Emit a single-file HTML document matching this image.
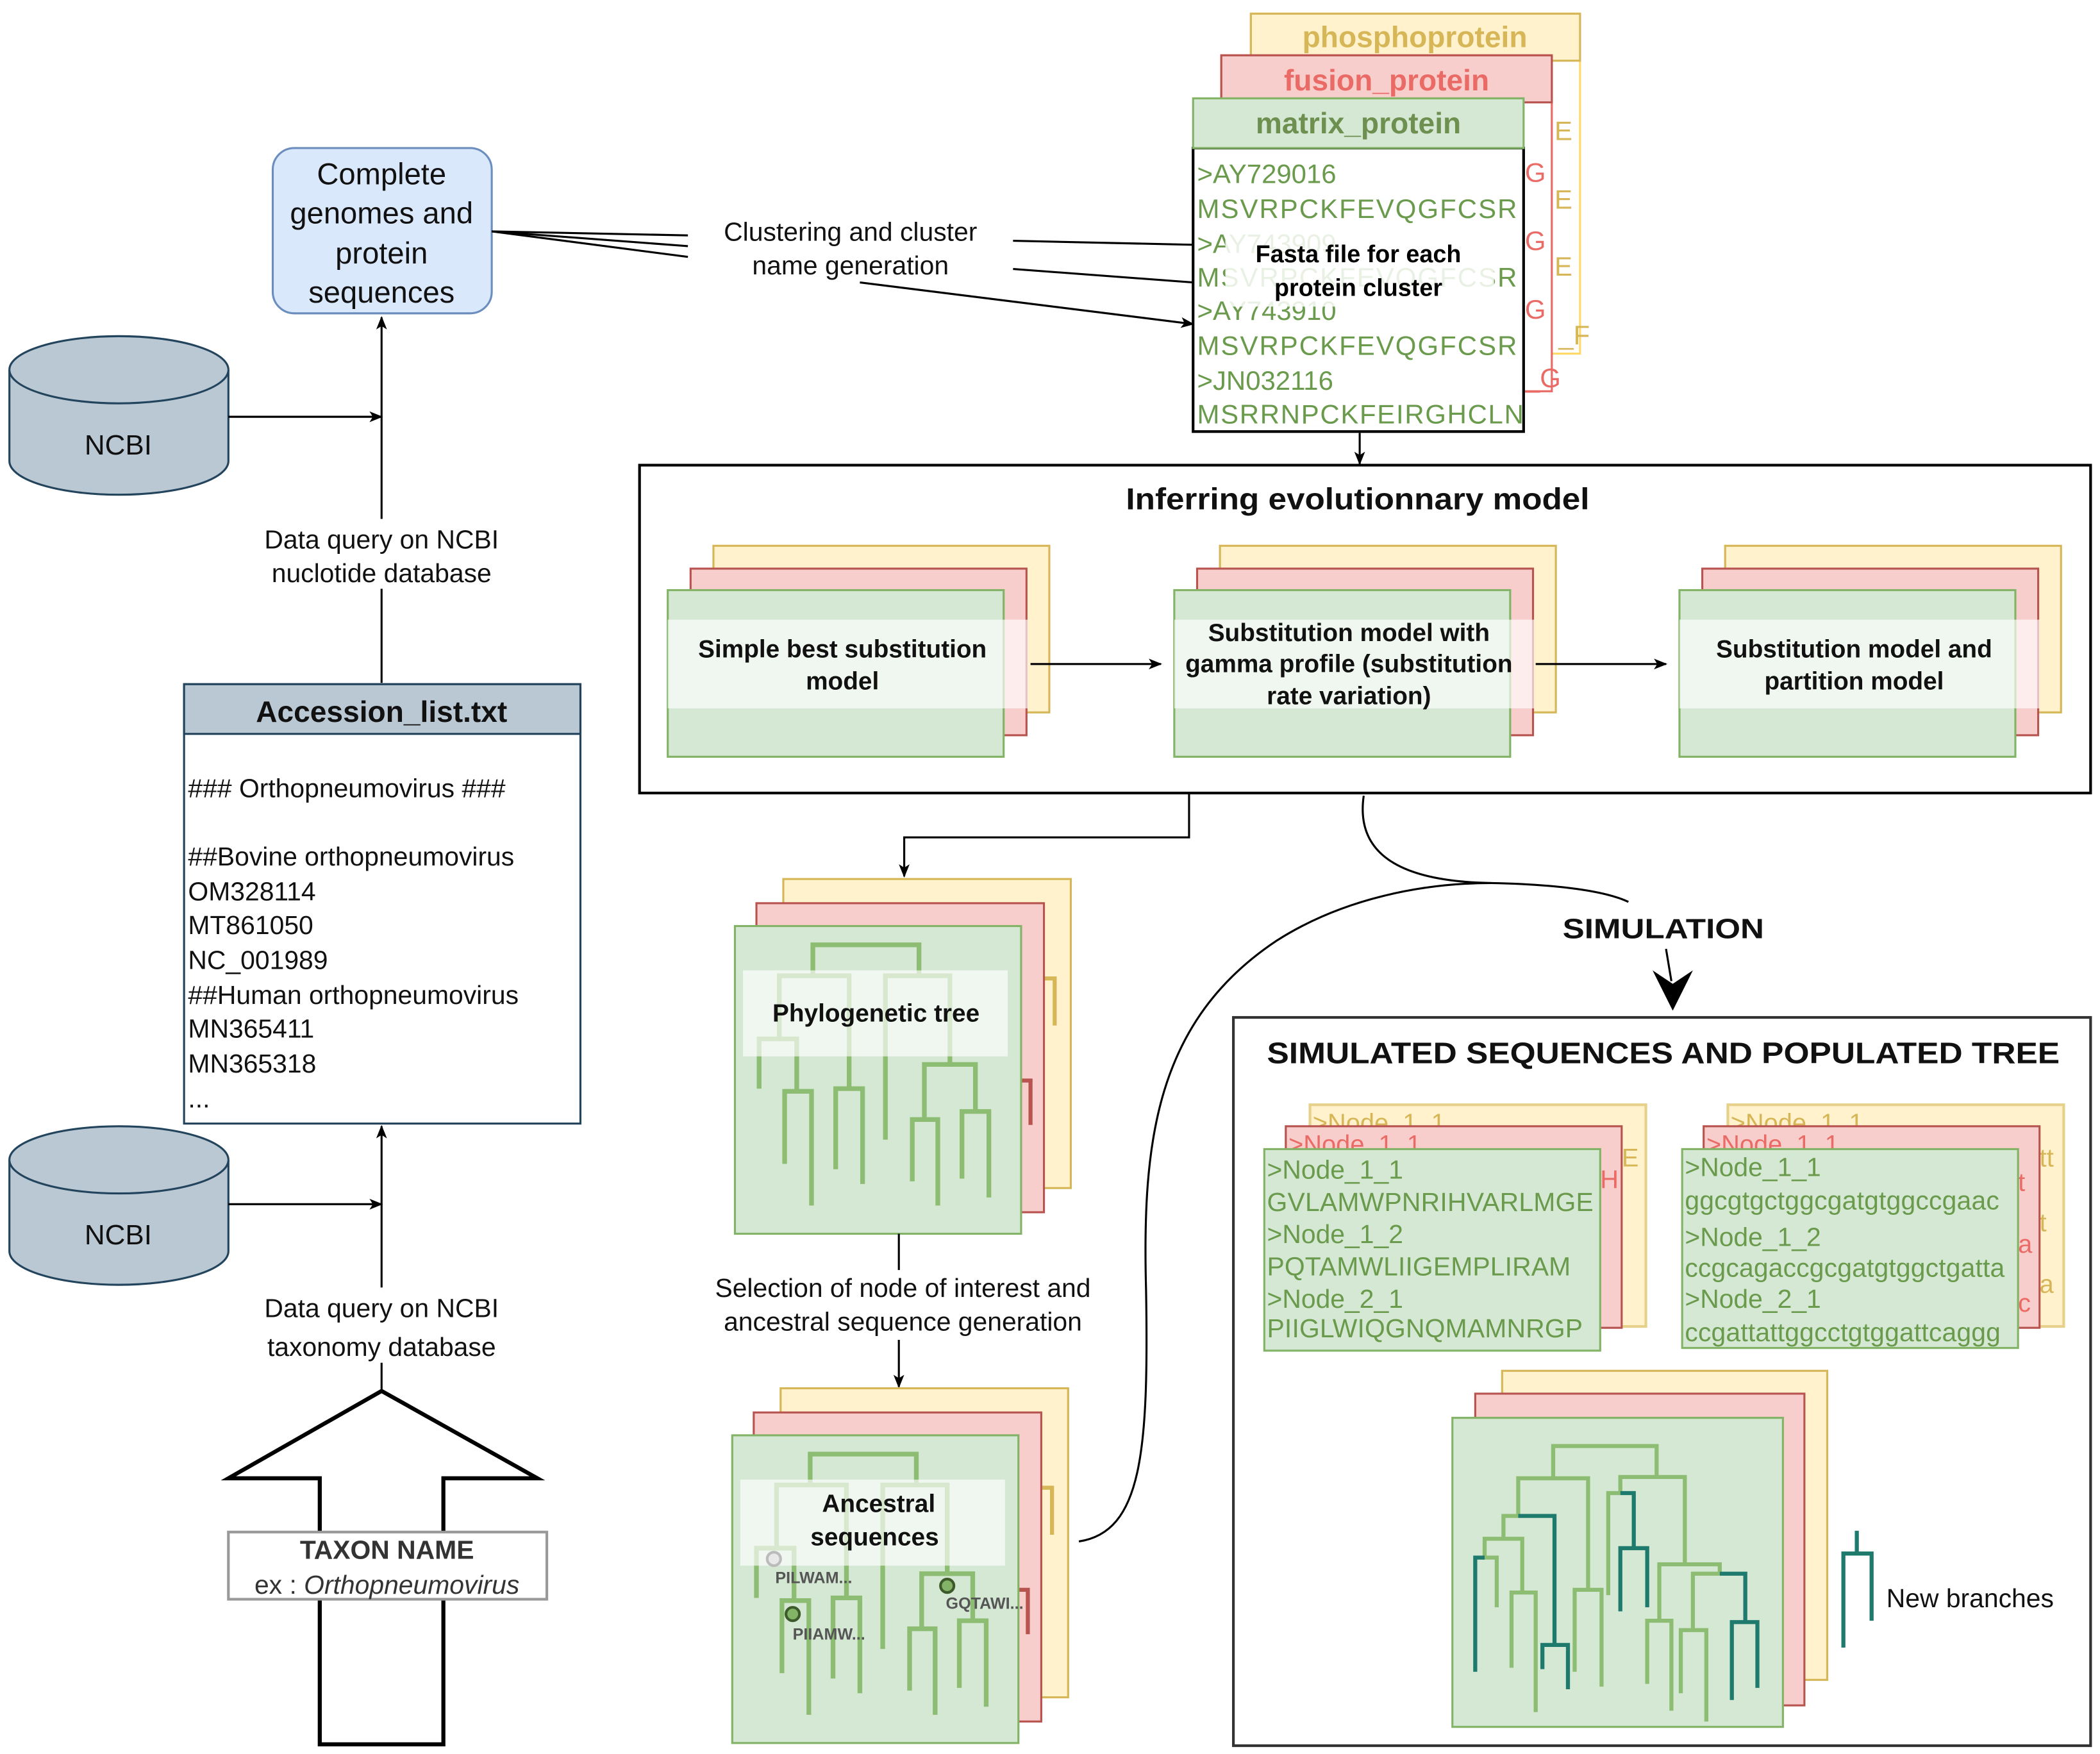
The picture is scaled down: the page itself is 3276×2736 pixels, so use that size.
<!DOCTYPE html>
<html><head><meta charset="utf-8"><style>html,body{margin:0;padding:0;background:#fff}svg{display:block}</style></head>
<body>
<svg xmlns="http://www.w3.org/2000/svg" width="3276" height="2736" viewBox="0 0 1563 1305" font-family="Liberation Sans, Arial, sans-serif">
<defs>
<marker id="a" markerWidth="10" markerHeight="10" refX="9" refY="5" orient="auto" markerUnits="userSpaceOnUse"><path d="M0,1 L10,5 L0,9 L2.5,5 Z" fill="#000"/></marker>
</defs>
<rect width="1563" height="1305" fill="#fff"/>

<rect x="203" y="110" width="163" height="123" rx="16" fill="#dae8fc" stroke="#6c8ebf" stroke-width="1.5"/>
<g font-size="22.5" text-anchor="middle" fill="#111">
<text x="284" y="137">Complete</text><text x="284" y="166">genomes and</text><text x="284" y="196">protein</text><text x="284" y="225">sequences</text>
</g>

<g fill="#bac8d3" stroke="#23445d" stroke-width="1.5">
<path d="M7,275 A81.5,25 0 0 1 170,275 V343 A81.5,25 0 0 1 7,343 Z"/>
<path d="M7,275 A81.5,25 0 0 0 170,275"/>
<path d="M7,863 A81.5,25 0 0 1 170,863 V931 A81.5,25 0 0 1 7,931 Z"/>
<path d="M7,863 A81.5,25 0 0 0 170,863"/>
</g>
<text x="88" y="338" font-size="21" text-anchor="middle" fill="#111">NCBI</text>
<text x="88" y="926" font-size="21" text-anchor="middle" fill="#111">NCBI</text>

<g stroke="#000" stroke-width="1.5" fill="none">
<line x1="170" y1="310" x2="284" y2="310" marker-end="url(#a)"/>
<line x1="284" y1="508" x2="284" y2="236" marker-end="url(#a)"/>
<line x1="170" y1="896" x2="284" y2="896" marker-end="url(#a)"/>
<line x1="284" y1="1035" x2="284" y2="838" marker-end="url(#a)"/>
</g>
<rect x="180" y="386" width="210" height="52" fill="#fff"/>
<rect x="180" y="958" width="210" height="56" fill="#fff"/>
<g font-size="19.5" text-anchor="middle" fill="#111">
<text x="284" y="408">Data query on NCBI</text><text x="284" y="433">nuclotide database</text>
<text x="284" y="980">Data query on NCBI</text><text x="284" y="1009">taxonomy database</text>
</g>

<rect x="137" y="509" width="295" height="327" fill="#fff" stroke="#23445d" stroke-width="1.5"/>
<rect x="137" y="509" width="295" height="37" fill="#bac8d3" stroke="#23445d" stroke-width="1.5"/>
<text x="284" y="537" font-size="22" font-weight="bold" text-anchor="middle" fill="#111">Accession_list.txt</text>
<g font-size="19.5" fill="#111">
<text x="140" y="593">### Orthopneumovirus ###</text>
<text x="140" y="644">##Bovine orthopneumovirus</text>
<text x="140" y="670">OM328114</text>
<text x="140" y="695">MT861050</text>
<text x="140" y="721">NC_001989</text>
<text x="140" y="747">##Human orthopneumovirus</text>
<text x="140" y="772">MN365411</text>
<text x="140" y="798">MN365318</text>
<text x="140" y="824">...</text>
</g>

<path d="M284,1035 L170,1100 L238,1100 L238,1298 L330,1298 L330,1100 L400,1100 Z" fill="#fff" stroke="#000" stroke-width="3"/>
<rect x="170" y="1140" width="237" height="50" fill="#fff" stroke="#999" stroke-width="2"/>
<text x="288" y="1160" font-size="19.5" font-weight="bold" text-anchor="middle" fill="#333">TAXON NAME</text>
<text x="288" y="1186" font-size="19.5" text-anchor="middle" fill="#333">ex : <tspan font-style="italic">Orthopneumovirus</tspan></text>

<g stroke="#000" stroke-width="1.5" fill="none">
<line x1="366" y1="172" x2="512" y2="175"/>
<line x1="366" y1="172" x2="512" y2="183"/>
<line x1="366" y1="172" x2="512" y2="191"/>
<line x1="754" y1="179" x2="888" y2="182"/>
<line x1="754" y1="200" x2="888" y2="210"/>
<line x1="640" y1="210" x2="888" y2="241" marker-end="url(#a)"/>
</g>
<text x="633" y="179" font-size="19.5" text-anchor="middle" fill="#111">Clustering and cluster</text>
<text x="633" y="204" font-size="19.5" text-anchor="middle" fill="#111">name generation</text>

<rect x="931" y="10" width="245" height="253" fill="#fff" stroke="#ffd966" stroke-width="1.5"/>
<rect x="931" y="10" width="245" height="35" fill="#fff2cc" stroke="#d6b656" stroke-width="1.5"/>
<text x="1053" y="35" font-size="22" font-weight="bold" text-anchor="middle" fill="#d6b656">phosphoprotein</text>
<rect x="909" y="41" width="246" height="250" fill="#fff" stroke="#ea6b66" stroke-width="1.5"/>
<rect x="909" y="41" width="246" height="35" fill="#f8cecc" stroke="#b85450" stroke-width="1.5"/>
<text x="1032" y="67" font-size="22" font-weight="bold" text-anchor="middle" fill="#ea6b66">fusion_protein</text>
<g font-size="20" fill="#d6b656"><text x="1157" y="104">E</text><text x="1157" y="155">E</text><text x="1157" y="205">E</text><text x="1160" y="256">_F</text></g>
<g font-size="20" fill="#ea6b66"><text x="1135" y="135">G</text><text x="1135" y="186">G</text><text x="1135" y="237">G</text><text x="1135" y="288">_G</text></g>
<rect x="888" y="110" width="246" height="211" fill="#fff" stroke="#000" stroke-width="2"/>
<rect x="888" y="73" width="246" height="37" fill="#d5e8d4" stroke="#82b366" stroke-width="1.5"/>
<text x="1011" y="99" font-size="22" font-weight="bold" text-anchor="middle" fill="#6d8f4f">matrix_protein</text>
<g font-size="20" fill="#6a9a4c">
<text x="891" y="136">&gt;AY729016</text>
<text x="891" y="162" textLength="238">MSVRPCKFEVQGFCSR</text>
<text x="891" y="188">&gt;AY743909</text>
<text x="891" y="213" textLength="238">MSVRPCKFEVQGFCSR</text>
<text x="891" y="238">&gt;AY743910</text>
<text x="891" y="264" textLength="238">MSVRPCKFEVQGFCSR</text>
<text x="891" y="290">&gt;JN032116</text>
<text x="891" y="315" textLength="243">MSRRNPCKFEIRGHCLN</text>
</g>
<rect x="912" y="172" width="200" height="56" fill="#fff" opacity="0.85"/>
<text x="1011" y="195" font-size="18" font-weight="bold" text-anchor="middle" fill="#000">Fasta file for each</text>
<text x="1011" y="220" font-size="18" font-weight="bold" text-anchor="middle" fill="#000">protein cluster</text>
<line x1="1012" y1="322" x2="1012" y2="345" stroke="#000" stroke-width="1.5" marker-end="url(#a)"/>

<rect x="476" y="346" width="1080" height="244" fill="#fff" stroke="#000" stroke-width="2"/>
<text x="838" y="379" font-size="22.5" font-weight="bold" fill="#111" textLength="345" lengthAdjust="spacingAndGlyphs">Inferring evolutionnary model</text>
<g id="st">
<rect x="531" y="406" width="250" height="124" fill="#fff2cc" stroke="#d6b656" stroke-width="1.5"/>
<rect x="514" y="423" width="250" height="124" fill="#f8cecc" stroke="#b85450" stroke-width="1.5"/>
<rect x="497" y="439" width="250" height="124" fill="#d5e8d4" stroke="#82b366" stroke-width="1.5"/>
<rect x="497" y="461" width="268" height="66" fill="#fff" opacity="0.65"/>
</g>
<use href="#st" x="377"/>
<use href="#st" x="753"/>
<g font-size="18.5" font-weight="bold" text-anchor="middle" fill="#111">
<text x="627" y="489">Simple best substitution</text><text x="627" y="513">model</text>
<text x="1004" y="477">Substitution model with</text><text x="1004" y="500">gamma profile (substitution</text><text x="1004" y="524">rate variation)</text>
<text x="1380" y="489">Substitution model and</text><text x="1380" y="513">partition model</text>
</g>
<g stroke="#000" stroke-width="1.5">
<line x1="767" y1="494" x2="864" y2="494" marker-end="url(#a)"/>
<line x1="1143" y1="494" x2="1240" y2="494" marker-end="url(#a)"/>
</g>
<polyline points="885,590 885,623 673,623 673,652" fill="none" stroke="#000" stroke-width="1.5" marker-end="url(#a)"/>

<g id="pt">
<rect x="583" y="654" width="214" height="230" fill="#fff2cc" stroke="#d6b656" stroke-width="1.5"/>
<path d="M775,728 H785 V763" fill="none" stroke="#d6b656" stroke-width="3"/>
<rect x="563" y="672" width="214" height="230" fill="#f8cecc" stroke="#b85450" stroke-width="1.5"/>
<path d="M759,804 H767 V837" fill="none" stroke="#b85450" stroke-width="3"/>
<rect x="547" y="689" width="213" height="229" fill="#d5e8d4" stroke="#82b366" stroke-width="1.5"/>
<path d="M605,726 V703 H684 V726 M580,773 V726 H632 V810 M565,810 V773 H593 V812 M584,866 V812 H604 V897 M622,870 V810 H642 V881 M659,848 V726 H707 V792 M688,833 V792 H726 V827 M679,879 V833 H698 V897 M716,877 V827 H736 V891" fill="none" stroke="#8dbd72" stroke-width="3.5"/>
<rect x="553" y="722" width="197" height="64" fill="#fff" opacity="0.65"/>
</g>
<text x="652" y="760" font-size="18.5" font-weight="bold" text-anchor="middle" fill="#111">Phylogenetic tree</text>

<line x1="669" y1="918" x2="669" y2="945" stroke="#000" stroke-width="1.5"/>
<line x1="669" y1="997" x2="669" y2="1032" stroke="#000" stroke-width="1.5" marker-end="url(#a)"/>
<text x="672" y="965" font-size="19.5" text-anchor="middle" fill="#111">Selection of node of interest and</text>
<text x="672" y="990" font-size="19.5" text-anchor="middle" fill="#111">ancestral sequence generation</text>

<use href="#pt" x="-2" y="379"/>
<g fill="#111" font-size="18.5" font-weight="bold" text-anchor="middle">
<text x="654" y="1125">Ancestral</text><text x="651" y="1150">sequences</text>
</g>
<circle cx="576" cy="1160" r="5" fill="#e8e8e8" stroke="#bbb" stroke-width="2"/>
<circle cx="590" cy="1201" r="5" fill="#82b366" stroke="#3d5a2a" stroke-width="2"/>
<circle cx="705" cy="1180" r="5" fill="#82b366" stroke="#3d5a2a" stroke-width="2"/>
<g font-size="12" font-weight="bold" fill="#555">
<text x="577" y="1178">PILWAM...</text><text x="590" y="1220">PIIAMW...</text><text x="704" y="1197">GQTAWI...</text>
</g>

<g fill="none" stroke="#000" stroke-width="1.5">
<path d="M1015,592 C1008,640 1050,656 1110,657 C1160,658 1195,663 1212,671"/>
<path d="M803,1147 C850,1140 855,1080 853,960 C850,850 860,760 950,700 C1000,668 1060,657 1110,657"/>
<path d="M1240,706 L1244,730"/>
</g>
<path d="M1230,722 L1245,752 L1260,722 L1245,732 Z" fill="#000"/>
<text x="1163" y="698" font-size="21" font-weight="bold" fill="#111" textLength="150" lengthAdjust="spacingAndGlyphs">SIMULATION</text>

<rect x="918" y="757" width="638" height="542" fill="#fff" stroke="#333" stroke-width="2"/>
<text x="943" y="791" font-size="22" font-weight="bold" fill="#111" textLength="590" lengthAdjust="spacingAndGlyphs">SIMULATED SEQUENCES AND POPULATED TREE</text>

<rect x="975" y="822" width="250" height="165" fill="#fff2cc" stroke="#e6d08a" stroke-width="2"/>
<text x="977" y="842" font-size="19" fill="#d6b656">&gt;Node_1_1</text>
<text x="1207" y="868" font-size="19" fill="#d6b656">E</text>
<rect x="957" y="838" width="250" height="150" fill="#f8cecc" stroke="#b85450" stroke-width="1.5"/>
<text x="959" y="858" font-size="19" fill="#ea6b66">&gt;Node_1_1</text>
<text x="1191" y="884" font-size="19" fill="#ea6b66">H</text>
<rect x="941" y="855" width="250" height="150" fill="#d5e8d4" stroke="#82b366" stroke-width="1.5"/>
<g font-size="19.5" fill="#6a9a4c">
<text x="943" y="877">&gt;Node_1_1</text>
<text x="943" y="901" textLength="243">GVLAMWPNRIHVARLMGE</text>
<text x="943" y="925">&gt;Node_1_2</text>
<text x="943" y="949" textLength="226">PQTAMWLIIGEMPLIRAM</text>
<text x="943" y="973">&gt;Node_2_1</text>
<text x="943" y="995" textLength="235">PIIGLWIQGNQMAMNRGP</text>
</g>

<rect x="1286" y="822" width="250" height="165" fill="#fff2cc" stroke="#e6d08a" stroke-width="2"/>
<text x="1288" y="842" font-size="19" fill="#d6b656">&gt;Node_1_1</text>
<g font-size="19" fill="#d6b656"><text x="1518" y="868">tt</text><text x="1518" y="916">t</text><text x="1518" y="962">a</text></g>
<rect x="1268" y="838" width="250" height="150" fill="#f8cecc" stroke="#b85450" stroke-width="1.5"/>
<text x="1270" y="858" font-size="19" fill="#ea6b66">&gt;Node_1_1</text>
<g font-size="19" fill="#ea6b66"><text x="1502" y="886">t</text><text x="1502" y="932">a</text><text x="1502" y="976">c</text></g>
<rect x="1252" y="855" width="250" height="148" fill="#d5e8d4" stroke="#82b366" stroke-width="1.5"/>
<g font-size="19.5" fill="#6a9a4c">
<text x="1254" y="875">&gt;Node_1_1</text>
<text x="1254" y="900" textLength="234">ggcgtgctggcgatgtggccgaac</text>
<text x="1254" y="927">&gt;Node_1_2</text>
<text x="1254" y="950" textLength="238">ccgcagaccgcgatgtggctgatta</text>
<text x="1254" y="973">&gt;Node_2_1</text>
<text x="1254" y="998" textLength="235">ccgattattggcctgtggattcaggg</text>
</g>

<rect x="1118" y="1020" width="242" height="230" fill="#fff2cc" stroke="#d6b656" stroke-width="1.5"/>
<rect x="1098" y="1037" width="245" height="232" fill="#f8cecc" stroke="#b85450" stroke-width="1.5"/>
<rect x="1081" y="1055" width="246" height="230" fill="#d5e8d4" stroke="#82b366" stroke-width="1.5"/>
<path d="M1156,1100 V1076 H1233 V1099 M1130,1128 V1100 H1182 V1183 M1206,1111 V1099 H1254 V1164 M1119,1145 V1128 H1130 M1105,1159 V1145 H1133 V1185 M1102,1159 H1114 V1196 M1125,1241 V1185 H1143 V1274 M1172,1244 V1183 H1192 V1255 M1197,1187 V1111 H1206 M1235,1206 V1164 H1280 V1171 M1226,1253 V1206 H1244 V1273 M1260,1213 V1171 H1280 M1251,1260 V1213 H1270 V1281" fill="none" stroke="#8dbd72" stroke-width="3"/>
<path d="M1130,1128 H1157 V1224 M1148,1242 V1224 H1167 V1257 M1098,1244 V1159 H1105 M1206,1111 H1216 V1152 M1206,1199 V1152 H1226 V1196 M1280,1171 H1299 V1207 M1289,1265 V1207 H1308 V1256" fill="none" stroke="#1f7a6e" stroke-width="3"/>
<path d="M1382,1139 V1156 M1372,1226 V1156 H1393 V1206" fill="none" stroke="#1f7a6e" stroke-width="3"/>
<text x="1404" y="1196" font-size="19.5" fill="#111">New branches</text>
</svg>
</body></html>
